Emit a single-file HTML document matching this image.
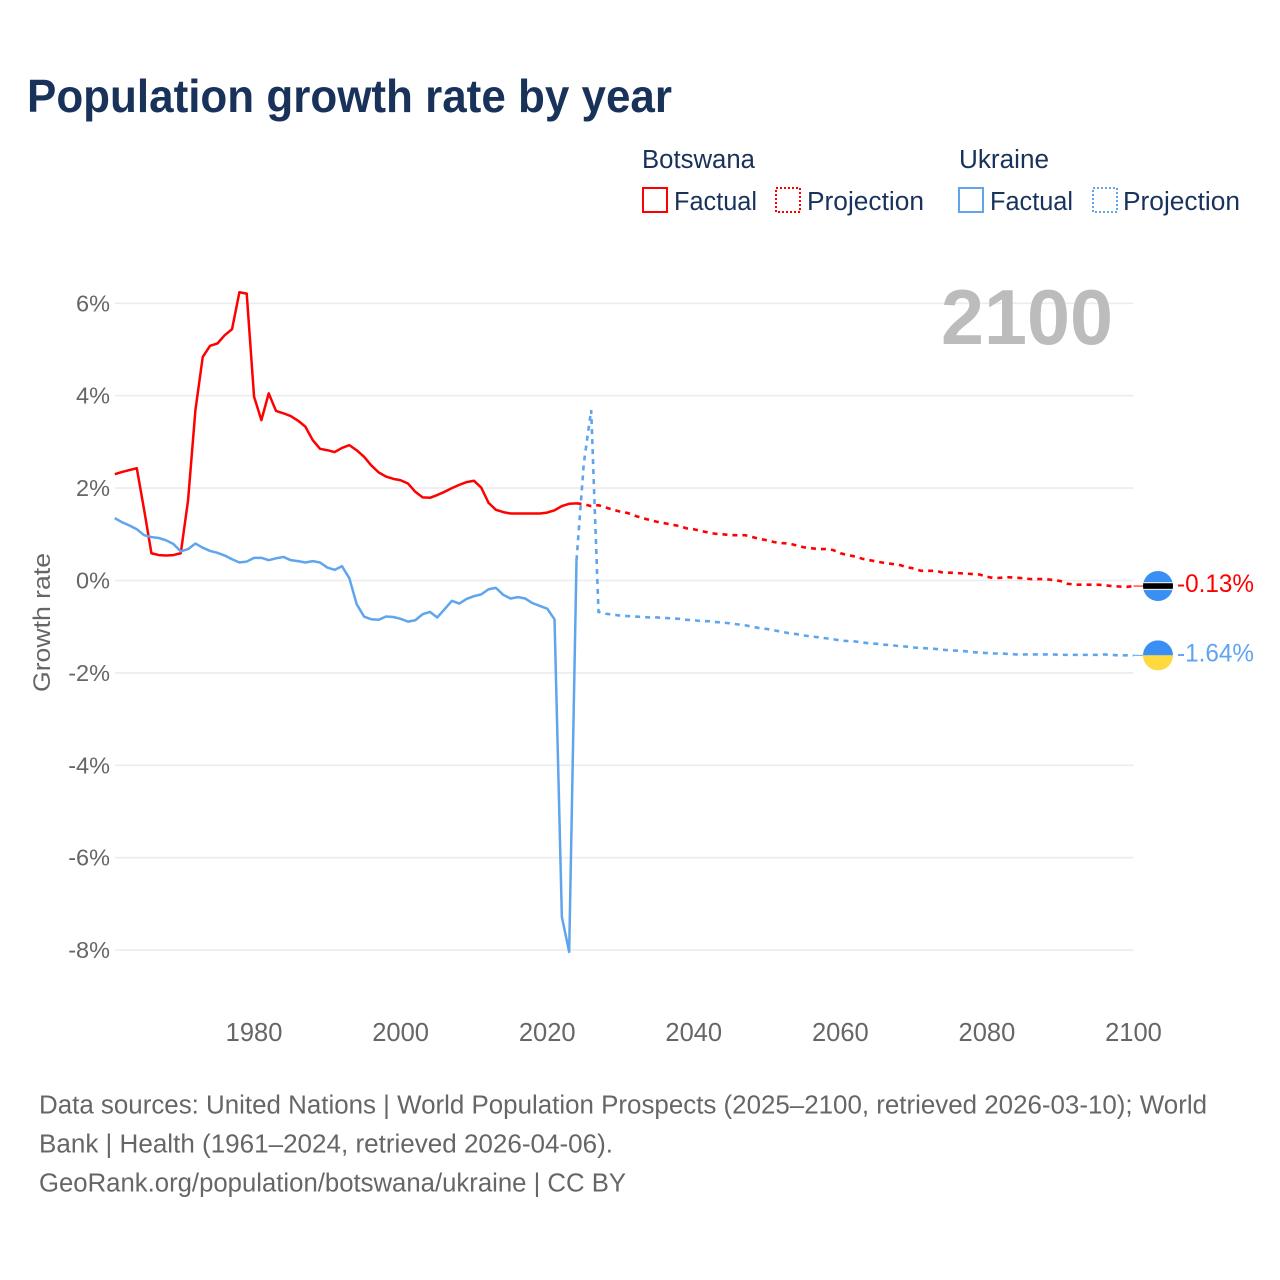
<!DOCTYPE html>
<html lang="en">
<head>
<meta charset="utf-8">
<title>Population growth rate by year</title>
<style>
  html, body { margin: 0; padding: 0; background: #fff; }
  svg { display: block; font-family: "Liberation Sans", sans-serif; }
</style>
</head>
<body>
<svg id="chart" width="1280" height="1280" viewBox="0 0 1280 1280" xmlns="http://www.w3.org/2000/svg">
  <rect x="0" y="0" width="1280" height="1280" fill="#ffffff"/>
  <text x="27" y="112" font-size="46" font-weight="700" fill="#18325a" textLength="645" lengthAdjust="spacingAndGlyphs">Population growth rate by year</text>

  <g font-size="25.5" fill="#18325a">
    <text x="642" y="168" textLength="113" lengthAdjust="spacingAndGlyphs">Botswana</text>
    <text x="959" y="168" textLength="90" lengthAdjust="spacingAndGlyphs">Ukraine</text>
    <rect x="643" y="188" width="24" height="24" fill="none" stroke="#ff0000" stroke-width="2"/>
    <text x="674" y="210" textLength="83" lengthAdjust="spacingAndGlyphs">Factual</text>
    <rect x="776" y="188" width="24" height="24" fill="none" stroke="#ff0000" stroke-width="2" stroke-dasharray="2 2"/>
    <text x="807" y="210" textLength="117" lengthAdjust="spacingAndGlyphs">Projection</text>
    <rect x="959" y="188" width="24" height="24" fill="none" stroke="#5fa5ee" stroke-width="2"/>
    <text x="990" y="210" textLength="83" lengthAdjust="spacingAndGlyphs">Factual</text>
    <rect x="1093" y="188" width="24" height="24" fill="none" stroke="#5fa5ee" stroke-width="2" stroke-dasharray="2 2"/>
    <text x="1123" y="210" textLength="117" lengthAdjust="spacingAndGlyphs">Projection</text>
  </g>

  <g id="grid"></g>
  <g id="yticks"></g>
  <g id="xticks"></g>

  <text x="941" y="344" font-size="78" font-weight="700" fill="#bcbcbc" textLength="172" lengthAdjust="spacingAndGlyphs">2100</text>
  <text transform="translate(50,622.5) rotate(-90)" text-anchor="middle" font-size="24.5" fill="#666666" textLength="139" lengthAdjust="spacingAndGlyphs">Growth rate</text>

  <g id="series"></g>

  <g id="endmarkers"></g>

  <g font-size="25.5" fill="#666666">
    <text x="39" y="1113.5" textLength="1168" lengthAdjust="spacingAndGlyphs">Data sources: United Nations | World Population Prospects (2025–2100, retrieved 2026-03-10); World</text>
    <text x="39" y="1152.5" textLength="574" lengthAdjust="spacingAndGlyphs">Bank | Health (1961–2024, retrieved 2026-04-06).</text>
    <text x="39" y="1191.5" textLength="587" lengthAdjust="spacingAndGlyphs">GeoRank.org/population/botswana/ukraine | CC BY</text>
  </g>
</svg>
<script>
const yTickValues = [6, 4, 2, 0, -2, -4, -6, -8];
const yTickLabels = ["6%", "4%", "2%", "0%", "-2%", "-4%", "-6%", "-8%"];
const xTickYears = [1980, 2000, 2020, 2040, 2060, 2080, 2100];
const xTickLabels = ["1980", "2000", "2020", "2040", "2060", "2080", "2100"];

const factualStartYear = 1961;
const projectionStartYear = 2024;

const botswanaFactual = [2.30,2.35,2.39,2.43,1.53,0.59,0.55,0.54,0.55,0.59,1.74,3.69,4.84,5.08,5.13,5.31,5.44,6.24,6.21,3.98,
  3.47,4.05,3.67,3.62,3.56,3.46,3.33,3.04,2.85,2.82,2.78,2.87,2.93,2.82,2.68,2.49,2.34,2.25,2.20,2.17,
  2.10,1.92,1.80,1.79,1.85,1.92,2.00,2.07,2.13,2.16,2.01,1.68,1.53,1.48,1.45,1.45,1.45,1.45,1.45,1.47,
  1.52,1.61,1.66,1.67];
const botswanaProjection = [1.67,1.65,1.61,1.63,1.58,1.53,1.49,1.46,1.40,1.35,1.31,1.27,1.24,1.21,1.18,1.13,1.11,1.07,1.04,1.01,
  1.00,0.98,0.98,0.98,0.94,0.90,0.87,0.83,0.81,0.80,0.76,0.72,0.70,0.68,0.68,0.66,0.59,0.55,0.52,0.47,
  0.44,0.41,0.38,0.36,0.34,0.29,0.26,0.21,0.21,0.21,0.17,0.17,0.16,0.15,0.14,0.13,0.08,0.05,0.06,0.07,
  0.06,0.05,0.03,0.03,0.03,0.01,-0.01,-0.07,-0.09,-0.09,-0.09,-0.09,-0.10,-0.12,-0.13,-0.14,-0.12];

const ukraineFactual = [1.35,1.26,1.19,1.11,0.98,0.94,0.92,0.87,0.79,0.63,0.68,0.80,0.71,0.64,0.60,0.54,0.46,0.39,0.41,0.49,
  0.49,0.44,0.48,0.51,0.44,0.42,0.39,0.42,0.39,0.28,0.23,0.31,0.05,-0.51,-0.78,-0.84,-0.85,-0.78,-0.79,-0.83,
  -0.89,-0.86,-0.73,-0.68,-0.80,-0.62,-0.44,-0.50,-0.40,-0.34,-0.30,-0.19,-0.16,-0.31,-0.39,-0.36,-0.39,-0.49,-0.55,-0.61,
  -0.84,-7.28,-8.04,0.44];
const ukraineProjection = [0.44,2.54,3.69,-0.68,-0.72,-0.74,-0.76,-0.77,-0.78,-0.79,-0.80,-0.80,-0.81,-0.82,-0.83,-0.85,-0.86,-0.88,-0.88,-0.90,
  -0.91,-0.93,-0.95,-0.97,-1.00,-1.03,-1.05,-1.08,-1.11,-1.14,-1.16,-1.19,-1.21,-1.23,-1.25,-1.27,-1.30,-1.31,-1.32,-1.34,
  -1.36,-1.37,-1.39,-1.40,-1.42,-1.43,-1.45,-1.46,-1.47,-1.48,-1.50,-1.51,-1.52,-1.53,-1.55,-1.56,-1.57,-1.58,-1.58,-1.59,
  -1.60,-1.60,-1.60,-1.60,-1.60,-1.60,-1.61,-1.61,-1.61,-1.61,-1.61,-1.61,-1.60,-1.61,-1.62,-1.62,-1.62];

const botswanaEndLabel = "-0.13%";
const ukraineEndLabel = "-1.64%";

const SVGNS = "http://www.w3.org/2000/svg";
const RED = "#ff0000";
const BLUE = "#5fa5ee";

function xScale(year) { return 114.8 + (year - 1961) * (1133.5 - 114.8) / (2100 - 1961); }
function yScale(v) { return 580.5 - v * 46.2; }

function make(tag, attrs, parent) {
  const el = document.createElementNS(SVGNS, tag);
  for (const k in attrs) el.setAttribute(k, attrs[k]);
  parent.appendChild(el);
  return el;
}

function seriesPoints(values, startYear) {
  return values.map((v, i) => xScale(startYear + i).toFixed(2) + "," + yScale(v).toFixed(2)).join(" ");
}

const gridG = document.getElementById("grid");
const yTickG = document.getElementById("yticks");
yTickValues.forEach((v, i) => {
  const line = make("line", { x1: 115, x2: 1133.5, y1: yScale(v), y2: yScale(v), stroke: "#ececec", "stroke-width": 1.6 }, gridG);
  
  
  const t = make("text", { x: 110, y: yScale(v) + 8, "text-anchor": "end", "font-size": 23.5, fill: "#666666" }, yTickG);
  
  
  t.textContent = yTickLabels[i];
});

const xTickG = document.getElementById("xticks");
xTickYears.forEach((yr, i) => {
  const t = make("text", { x: xScale(yr), y: 1041, "text-anchor": "middle", "font-size": 25.5, fill: "#666666" }, xTickG);
  
  
  t.textContent = xTickLabels[i];
});

const seriesG = document.getElementById("series");

const botF = make("polyline", { points: seriesPoints(botswanaFactual, factualStartYear), fill: "none", stroke: RED, "stroke-width": 2.5, "stroke-linejoin": "round" }, seriesG);



const ukrF = make("polyline", { points: seriesPoints(ukraineFactual, factualStartYear), fill: "none", stroke: BLUE, "stroke-width": 2.5, "stroke-linejoin": "round" }, seriesG);



const botP = make("polyline", { points: seriesPoints(botswanaProjection, projectionStartYear), fill: "none", stroke: RED, "stroke-width": 2.6, "stroke-dasharray": "5 5" }, seriesG);



const ukrP = make("polyline", { points: seriesPoints(ukraineProjection, projectionStartYear), fill: "none", stroke: BLUE, "stroke-width": 2.6, "stroke-dasharray": "5 5" }, seriesG);



const endG = document.getElementById("endmarkers");
const flagX = 1158;
const botLast = botswanaProjection[botswanaProjection.length - 1];
const ukrLast = ukraineProjection[ukraineProjection.length - 1];
const botY = yScale(botLast);
const ukrY = yScale(ukrLast);

const botConn = make("line", { x1: xScale(2100), x2: flagX - 15, y1: botY, y2: botY, stroke: RED, "stroke-width": 1 }, endG);


const ukrConn = make("line", { x1: xScale(2100), x2: flagX - 15, y1: ukrY, y2: ukrY, stroke: BLUE, "stroke-width": 1 }, endG);



const defs = make("defs", {}, endG);
const clipB = make("clipPath", { id: "clip-bw" }, defs);
make("circle", { cx: flagX, cy: botY, r: 15 }, clipB);
const clipU = make("clipPath", { id: "clip-ua" }, defs);
make("circle", { cx: flagX, cy: ukrY, r: 15 }, clipU);

const flagB = make("g", { "clip-path": "url(#clip-bw)" }, endG);


make("rect", { x: flagX - 15, y: botY - 15, width: 30, height: 30, fill: "#3a8ff5" }, flagB);
make("rect", { x: flagX - 15, y: botY - 4, width: 30, height: 8, fill: "#e8e8e8" }, flagB);
make("rect", { x: flagX - 15, y: botY - 2.8, width: 30, height: 5.6, fill: "#000000" }, flagB);

const flagU = make("g", { "clip-path": "url(#clip-ua)" }, endG);


make("rect", { x: flagX - 15, y: ukrY - 15, width: 30, height: 15, fill: "#3a8ff5" }, flagU);
make("rect", { x: flagX - 15, y: ukrY, width: 30, height: 15, fill: "#ffd940" }, flagU);

const botLabel = make("text", { x: 1177, y: botY + 6, "font-size": 25, fill: RED, textLength: 77, lengthAdjust: "spacingAndGlyphs" }, endG);


botLabel.textContent = botswanaEndLabel;

const ukrLabel = make("text", { x: 1177, y: ukrY + 6, "font-size": 25, fill: BLUE, textLength: 77, lengthAdjust: "spacingAndGlyphs" }, endG);


ukrLabel.textContent = ukraineEndLabel;
</script>
</body>
</html>
